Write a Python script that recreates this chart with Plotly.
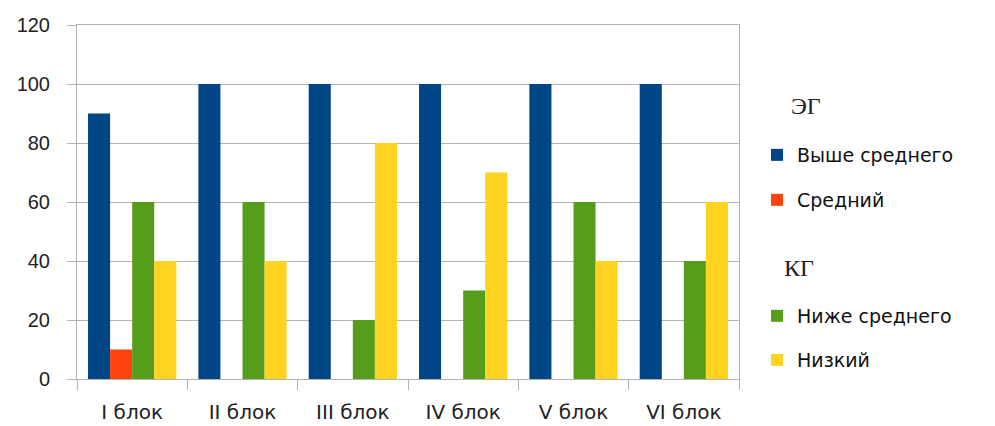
import plotly.graph_objects as go

categories = ["I блок", "II блок", "III блок", "IV блок", "V блок", "VI блок"]
above_avg = [90, 100, 100, 100, 100, 100]
average = [10, 0, 0, 0, 0, 0]
below_avg = [60, 60, 20, 30, 60, 40]
low = [40, 40, 80, 70, 40, 60]

series = [
    ("Выше среднего", above_avg, "#004586", "legend"),
    ("Средний", average, "#ff420e", "legend2"),
    ("Ниже среднего", below_avg, "#579d1c", "legend3"),
    ("Низкий", low, "#ffd320", "legend4"),
]

OFF = 8  # page body offset
W, H = 995 - OFF, 426 - OFF
L, R, T, B = 77 - OFF, 256, 25 - OFF, 47
pw, ph = W - L - R, H - T - B

def px(x):
    return (x - OFF - L) / pw

def py(y):
    return (H - B - (y - OFF)) / ph

fig = go.Figure()
for name, vals, color, lg in series:
    fig.add_trace(go.Bar(x=categories, y=vals, name=name, marker_color=color,
                         marker_line_width=0, legend=lg))

legend_font = dict(family="DejaVu Sans, Verdana, sans-serif", size=19, color="#111")
legend_y = [155, 200, 316, 360]
legend_common = dict(xanchor="left", yanchor="middle", bgcolor="rgba(0,0,0,0)",
                     font=legend_font, itemwidth=30)
lx = 757
fig.update_layout(
    legend=dict(x=px(lx), y=py(legend_y[0]), **legend_common),
    legend2=dict(x=px(lx), y=py(legend_y[1]), **legend_common),
    legend3=dict(x=px(lx), y=py(legend_y[2]), **legend_common),
    legend4=dict(x=px(lx), y=py(legend_y[3]), **legend_common),
)

for txt, xx, yy in [("ЭГ", 789, 106), ("КГ", 782, 268)]:
    fig.add_annotation(text=txt, x=px(xx), y=py(yy), xref="paper", yref="paper",
                       xanchor="left", yanchor="middle", showarrow=False,
                       font=dict(family="Liberation Serif, Times New Roman, serif",
                                 size=24, color="#222"))

grid = "#b3b3b3"
fig.update_layout(
    width=W, height=H,
    margin=dict(l=L, r=R, t=T, b=B, autoexpand=False),
    paper_bgcolor="white", plot_bgcolor="white",
    barmode="group", bargap=0.2, bargroupgap=0,
    showlegend=True,
    xaxis=dict(automargin=False, showline=True, linecolor=grid, linewidth=1, mirror=True,
               ticks="outside", tickson="boundaries", ticklen=10, tickcolor=grid,
               tickwidth=1, showgrid=False, ticklabelstandoff=15,
               tickfont=dict(family="DejaVu Sans, Verdana, sans-serif", size=20, color="#222")),
    yaxis=dict(automargin=False, range=[0, 120], dtick=20, showline=True, linecolor=grid,
               linewidth=1, mirror=True, showgrid=True, gridcolor=grid, gridwidth=1,
               ticks="outside", ticklen=9, tickcolor=grid, tickwidth=1,
               zeroline=False, ticklabelstandoff=13,
               tickfont=dict(family="Liberation Sans, Arial, sans-serif",
                             size=20, color="#222")),
)

fig.write_html("out.html")
